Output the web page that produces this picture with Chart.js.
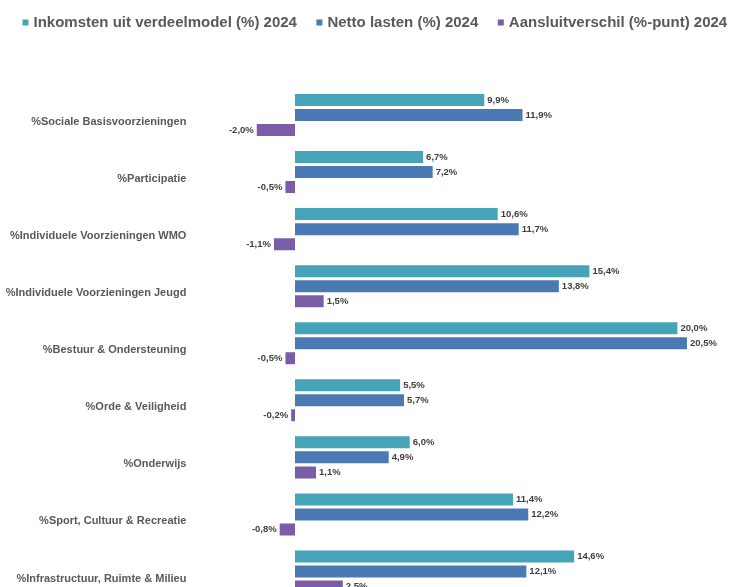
<!DOCTYPE html>
<html><head><meta charset="utf-8">
<script src="https://cdn.jsdelivr.net/npm/chart.js@4/dist/chart.umd.min.js"></script>
<style>
html,body{margin:0;padding:0;background:#fff;overflow:hidden;width:730px;height:587px;}
#wrap{position:absolute;left:0;top:-7px;width:773px;height:607px;}
</style></head><body>
<div id="wrap"><canvas id="c"></canvas></div>
<script>
const categories = [
  '%Sociale Basisvoorzieningen',
  '%Participatie',
  '%Individuele Voorzieningen WMO',
  '%Individuele Voorzieningen Jeugd',
  '%Bestuur & Ondersteuning',
  '%Orde & Veiligheid',
  '%Onderwijs',
  '%Sport, Cultuur & Recreatie',
  '%Infrastructuur, Ruimte & Milieu'
];
const seriesNames = [
  'Inkomsten uit verdeelmodel (%) 2024',
  'Netto lasten (%) 2024',
  'Aansluitverschil (%-punt) 2024'
];
const inkomsten = [9.9, 6.7, 10.6, 15.4, 20.0, 5.5, 6.0, 11.4, 14.6];
const nettoLasten = [11.9, 7.2, 11.7, 13.8, 20.5, 5.7, 4.9, 12.2, 12.1];
const aansluitverschil = [-2.0, -0.5, -1.1, 1.5, -0.5, -0.2, 1.1, -0.8, 2.5];
const seriesColors = ['#46A4B9', '#4A79B4', '#7B5CA7'];

const FONT = '"Liberation Sans", Arial, sans-serif';
Chart.defaults.font.family = FONT;

const valueLabels = {
  id: 'valueLabels',
  afterDatasetsDraw(chart) {
    const ctx = chart.ctx;
    ctx.save();
    ctx.font = 'bold 9.5px ' + FONT;
    ctx.fillStyle = '#404040';
    ctx.textBaseline = 'middle';
    chart.data.datasets.forEach((ds, i) => {
      const meta = chart.getDatasetMeta(i);
      meta.data.forEach((bar, j) => {
        const v = ds.data[j];
        const txt = v.toFixed(1).replace('.', ',') + '%';
        if (v >= 0) { ctx.textAlign = 'left'; ctx.fillText(txt, bar.x + 3, bar.y); }
        else { ctx.textAlign = 'right'; ctx.fillText(txt, bar.x - 3, bar.y); }
      });
    });
    ctx.restore();
  }
};

const seriesData = [inkomsten, nettoLasten, aansluitverschil];
new Chart(document.getElementById('c'), {
  type: 'bar',
  data: {
    labels: categories,
    datasets: seriesData.map((d, i) => ({
      label: seriesNames[i],
      data: d,
      backgroundColor: seriesColors[i],
      borderWidth: 0,
      categoryPercentage: 0.79,
      barPercentage: 0.8
    }))
  },
  options: {
    indexAxis: 'y',
    responsive: true,
    maintainAspectRatio: false,
    animation: false,
    layout: { padding: { left: 3, right: 0, top: 0, bottom: 0 } },
    plugins: {
      tooltip: { enabled: false },
      legend: {
        position: 'top',
        align: 'start',
        labels: {
          usePointStyle: true,
          pointStyle: 'rect',
          boxWidth: 1,
          boxHeight: 6,
          padding: 22,
          color: '#595959',
          font: { size: 15, weight: 'bold', family: FONT }
        }
      }
    },
    scales: {
      x: {
        position: 'top',
        min: -5,
        max: 25,
        grid: { display: false, drawTicks: false },
        border: { display: false },
        ticks: { display: false },
        afterFit(s) { s.height = 46.5; }
      },
      y: {
        grid: { display: false, drawTicks: false },
        border: { display: false },
        ticks: {
          autoSkip: false,
          padding: 13,
          labelOffset: 7,
          color: '#595959',
          font: { size: 11, weight: 'bold', family: FONT }
        },
        afterFit(s) { s.width = 196.4; s.paddingTop = 0; s.paddingBottom = 0; }
      }
    }
  },
  plugins: [valueLabels]
});
</script>
</body></html>
